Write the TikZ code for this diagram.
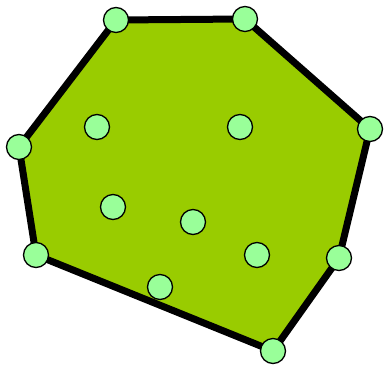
\documentclass[tikz,border=0pt]{standalone}
\usepackage{tikz}
\definecolor{hullgreen}{HTML}{99CC00}
\definecolor{ptgreen}{HTML}{99FF99}
\tikzset{
  pt/.style={circle, draw=black, line width=1.3pt, fill=ptgreen, minimum size=25pt, inner sep=0pt},
  hull/.style={draw=black, line width=7pt, line join=round, fill=hullgreen}
}

\begin{document}
\begin{tikzpicture}[x=1pt,y=-1pt]
  \useasboundingbox (0,0) rectangle (385,367);
  % Vertexs de l'envolupant
  \coordinate (h1) at (116,20);
  \coordinate (h2) at (245,19);
  \coordinate (h3) at (370,129);
  \coordinate (h4) at (339,258);
  \coordinate (h5) at (273,351);
  \coordinate (h6) at (36,255);
  \coordinate (h7) at (19,147);
  % Envolupant convexa
  \path[hull] (h1) -- (h2) -- (h3) -- (h4) -- (h5) -- (h6) -- (h7) -- cycle;
  % Punts de l'envolupant
  \foreach \i in {1,...,7}
    \node[pt] (p\i) at (h\i) {};
  % Punts interiors
  \node[pt] (q1) at (97,127)  {};
  \node[pt] (q2) at (240,127) {};
  \node[pt] (q3) at (113,207) {};
  \node[pt] (q4) at (193,222) {};
  \node[pt] (q5) at (257,255) {};
  \node[pt] (q6) at (160,287) {};
\end{tikzpicture}
\end{document}
